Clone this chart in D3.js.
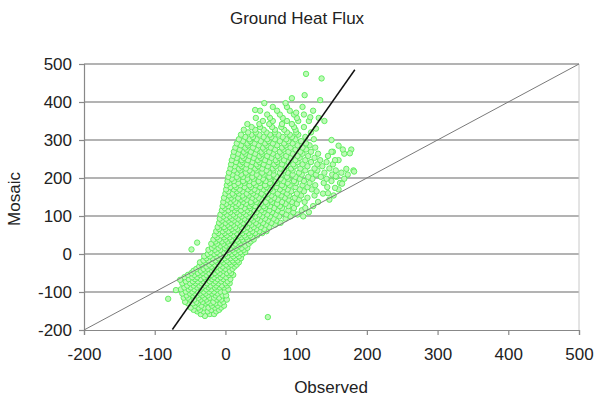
<!DOCTYPE html>
<html><head><meta charset="utf-8">
<script src="https://cdn.jsdelivr.net/npm/d3@7"></script>
<style>body{margin:0;background:#fff}svg{display:block}text{font-family:"Liberation Sans",Arial,sans-serif;fill:#222}</style>
</head><body><svg id="c" width="595" height="400"></svg>
<script>
const title = "Ground Heat Flux";
const xLabel = "Observed", yLabel = "Mosaic";
const xTicks = [-200,-100,0,100,200,300,400,500];
const yTicks = [-200,-100,0,100,200,300,400,500];
// regression line (Mosaic = slope * Observed) and 1:1 line
const fitX = [-75, 183], fitSlope = 2.65;
const oneToOne = [-200, 500];
// scatter rows: [y, [x values]]
const lowerRows = [
 [-163,[-29]],[-158,[-35,-22,-16]],[-151,[-40,-31,-25,-13]],[-147,[-45,-36,-20,-9]],
 [-141,[-49,-38,-30,-24,-15,-6]],[-136,[-43,-34,-19,-11,-2]],[-130,[-53,-46,-39,-28,-21,-14,-7]],
 [-126,[-57,-41,-32,-25,-17,-3]],[-120,[-50,-44,-35,-27,-12,-6,2]],[-115,[-59,-53,-38,-30,-22,-16,-9]],
 [-109,[-55,-46,-40,-33,-25,-14,-4,1]],[-104,[-61,-50,-43,-36,-28,-19,-11]],[-99,[-56,-47,-39,-31,-23,-16,-7,-1]],
 [-93,[-63,-52,-44,-35,-27,-20,-12,4]],[-88,[-58,-49,-40,-33,-24,-15,-8,-2]],[-83,[-54,-45,-37,-29,-21,-13,-5,2]],
 [-77,[-61,-50,-42,-34,-26,-17,-10,0,6]],[-72,[-56,-46,-39,-31,-22,-14,-6,3]],[-66,[-52,-43,-35,-28,-19,-11,-3,7]],
 [-61,[-58,-47,-40,-30,-24,-16,-7,1]],[-55,[-53,-44,-36,-27,-20,-12,-4,5,11]],[-50,[-48,-39,-32,-23,-15,-8,2,8]],
 [-44,[-45,-35,-28,-19,-11,-3,6]],[-39,[-41,-31,-25,-16,-7,0,10]],[-33,[-37,-27,-20,-12,-4,4,13]]
];
const middleRows = [
 [-28,[-33,-23,-15,-8,1,8,16]],[-22,[-36,-28,-19,-11,-3,5,12,19]],[-17,[-31,-24,-14,-6,2,10,17]],
 [-11,[-27,-18,-10,-1,7,14,22]],[-6,[-30,-22,-13,-5,3,11,19]],[0,[-25,-16,-8,0,9,16,24]],
 [5,[-21,-12,-3,5,13,21,28]],[11,[-24,-15,-7,2,10,18,26]],[16,[-19,-10,-1,7,15,23,31]],
 [22,[-16,-7,1,11,19,28]],[27,[-20,-12,-3,5,14,22,33]],[33,[-14,-5,3,10,18,26,36]],
 [38,[-17,-9,0,8,16,24,31,40]],[44,[-12,-2,6,14,22,29,38]],[49,[-15,-6,2,11,19,27,35,45]],
 [55,[-10,-1,7,16,24,33,42,52]],[60,[-13,-4,4,12,21,29,38,48,58]],[66,[-9,0,9,17,26,35,44,55]],
 [71,[-11,-2,6,14,23,31,40,50,62]],[77,[-6,3,11,20,28,37,46,57,70]],[82,[-9,0,8,17,25,34,43,53,65,78]],
 [88,[-5,4,12,21,30,39,49,60,72]],[93,[-8,1,9,18,27,36,45,56,68,85]],[99,[-3,6,14,23,32,42,52,63,76,92,110]],
 [104,[-7,2,11,20,29,38,48,59,71,86,102]],[110,[-2,7,16,25,34,44,54,66,80,96,118]],
 [115,[-5,4,13,22,31,41,51,62,74,89,108]]
];
const upperRows = [
 [121,[-1,9,16,27,35,47,56,69,80,97,113]],[126,[-4,4,15,22,34,42,54,63,77,89,124]],
 [132,[1,10,18,29,37,50,59,73,85,101]],[137,[-3,7,14,25,36,44,57,66,80,94,112,131]],
 [143,[3,11,22,30,42,51,64,74,89,104,147]],[148,[-2,8,18,26,38,47,60,69,84,98,116]],
 [154,[5,12,24,33,43,56,65,79,90,107,126,153]],[159,[0,10,19,30,39,51,60,74,87,101,138]],
 [165,[4,16,24,36,45,58,67,81,93,111,129]],[170,[1,12,20,32,41,54,63,77,88,105,122,160]],
 [176,[7,15,27,36,49,58,72,83,99,116,144]],[181,[2,13,21,34,43,56,66,80,91,109,127]],
 [187,[6,18,27,40,49,63,73,88,100,119,139,162]],[192,[3,12,25,34,47,57,71,82,97,111,150]],
 [198,[9,18,31,40,53,63,78,89,105,123,143,168]],[203,[4,16,25,38,48,62,72,87,99,117,135,157]],
 [209,[10,22,31,44,54,68,79,95,108,128,151,173]],[214,[5,17,29,38,52,62,77,88,104,121,140,164]],
 [220,[12,21,34,44,58,68,83,95,113,130,156,181]],[225,[7,19,29,42,52,67,78,93,106,126,147]],
 [231,[13,23,36,46,60,71,86,98,116,137]],[236,[8,21,30,44,54,69,80,96,109,130,152]],
 [242,[15,24,38,48,62,73,89,102,121,143]],[247,[9,23,32,46,56,71,83,99,113,134,160]],
 [253,[16,26,40,50,65,76,92,105,126]],[258,[11,24,34,48,59,74,86,102,117,145]],
 [264,[18,28,42,52,67,79,95,109,131,168]],[269,[12,26,36,51,62,77,89,106,121,152]],
 [275,[20,30,44,55,70,82,99,114,178]],[280,[14,28,39,53,64,80,92,109,127]],
 [286,[22,32,47,58,73,85,102,119]],[291,[16,31,41,56,67,83,95,114]],
 [297,[25,35,50,61,77,89,107]],[302,[19,34,44,59,70,86,99,125]],
 [308,[28,39,54,65,81,94,113]],[314,[22,37,48,63,75,91,103]],
 [320,[32,43,58,70,87,100,121]],[327,[26,42,54,70,83,99]],
 [334,[37,49,66,79,97,111]],[342,[31,48,62,80,94]],[350,[53,67,87,103,118]],
 [358,[43,63,81,101,132]],[367,[59,77,97,111]],[377,[49,73,91,124]],[387,[67,87,109]],[397,[55,85]]
];
const sparsePoints = [[114,474],[136,462],[112,418],[134,405],[94,410],[42,379],[100,372],[120,360],[140,350],
 [128,330],[150,300],[160,285],[150,269],[166,275],[176,265],[155,247],[171,224],[182,217],[156,205],
 [155,174],[145,160],[165,185],[-81,-118],[60,-166],[-48,12],[-64,-68],[-70,-95],[-40,30]];

const svg = d3.select("#c");
const x = d3.scaleLinear().domain([-200,500]).range([84,579]);
const y = d3.scaleLinear().domain([-200,500]).range([330,64]);
const fmt = d => String(d); // plain hyphen-minus like the original

// gridlines
svg.append("g").selectAll("line").data(yTicks.filter(d=>d>-200)).join("line")
  .attr("x1",x(-200)).attr("x2",x(500)).attr("y1",d=>y(d)).attr("y2",d=>y(d))
  .attr("stroke","#9a9a9a").attr("stroke-width",1.3);
// right border
svg.append("line").attr("x1",x(500)).attr("x2",x(500)).attr("y1",y(500)).attr("y2",y(-200))
  .attr("stroke","#c8c8c8").attr("stroke-width",1);

// axes
const xa = svg.append("g").attr("transform",`translate(0,${y(-200)})`)
  .call(d3.axisBottom(x).tickValues(xTicks).tickSize(5).tickPadding(9).tickFormat(fmt));
const ya = svg.append("g").attr("transform",`translate(${x(-200)},0)`)
  .call(d3.axisLeft(y).tickValues(yTicks).tickSize(5).tickPadding(7).tickFormat(fmt));
[xa,ya].forEach(a=>{a.select(".domain").attr("stroke","#888").attr("stroke-width",1.2);
  a.selectAll(".tick line").attr("stroke","#888").attr("stroke-width",1.2);
  a.selectAll(".tick text").attr("font-size",17).attr("font-family","Liberation Sans, Arial, sans-serif").attr("fill","#222");});
xa.selectAll(".tick text").attr("dy","0.95em");

// points
const pts = [];
[lowerRows,middleRows,upperRows].forEach(rows=>rows.forEach(([yy,xs])=>xs.forEach(xx=>pts.push([xx,yy]))));
sparsePoints.forEach(p=>pts.push(p));
svg.append("g").selectAll("circle").data(pts).join("circle")
  .attr("cx",d=>x(d[0])).attr("cy",d=>y(d[1])).attr("r",2.7)
  .attr("fill","#bff8b8").attr("stroke","#55ee55").attr("stroke-width",0.9);

// 1:1 line
svg.append("line").attr("x1",x(oneToOne[0])).attr("y1",y(oneToOne[0])).attr("x2",x(oneToOne[1])).attr("y2",y(oneToOne[1]))
  .attr("stroke","#7a7a7a").attr("stroke-width",1);
// regression line
svg.append("line").attr("x1",x(fitX[0])).attr("y1",y(fitX[0]*fitSlope)).attr("x2",x(fitX[1])).attr("y2",y(fitX[1]*fitSlope))
  .attr("stroke","#111").attr("stroke-width",1.5);

// titles
svg.append("text").attr("x",297).attr("y",24).attr("text-anchor","middle").attr("font-size",17).text(title);
svg.append("text").attr("x",331).attr("y",393).attr("text-anchor","middle").attr("font-size",17).text(xLabel);
svg.append("text").attr("transform","translate(20,199) rotate(-90)").attr("text-anchor","middle").attr("font-size",17).text(yLabel);
</script></body></html>
